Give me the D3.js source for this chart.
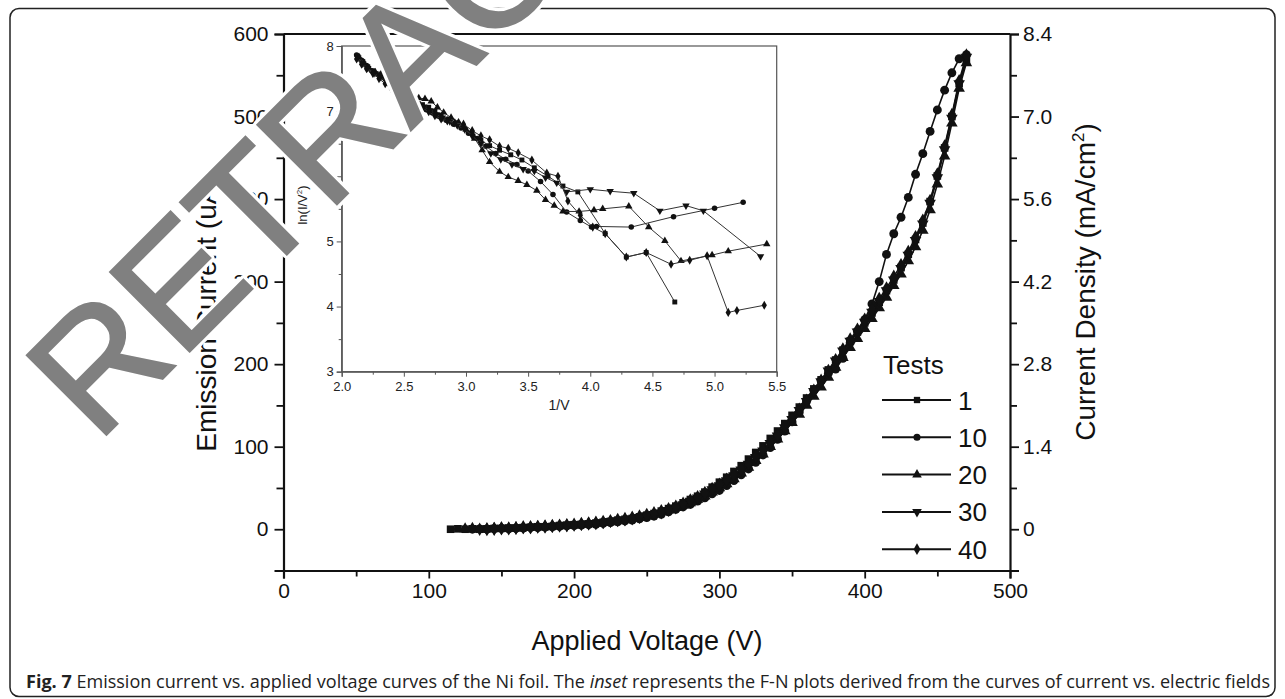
<!DOCTYPE html>
<meta charset="utf-8">
<style>
html,
body {
    margin: 0;
    padding: 0;
    overflow: hidden;
    background: #fff;
}

svg {
    display: block;
}

text {
    font-family: "Liberation Sans", Arial, sans-serif;
}
</style>
<svg width="1285" height="699"></svg>
<script src="https://cdn.jsdelivr.net/npm/d3@7"></script>
<script>
// main plot: emission current (uA) vs applied voltage (V), 5 V steps
var voltages = [115, 120, 125, 130, 135, 140, 145, 150, 155, 160, 165, 170, 175, 180, 185, 190, 195, 200,
    205, 210, 215, 220, 225, 230, 235, 240, 245, 250, 255, 260, 265, 270, 275, 280, 285, 290, 295, 300,
    305, 310, 315, 320, 325, 330, 335, 340, 345, 350, 355, 360, 365, 370, 375, 380, 385, 390, 395, 400,
    405, 410, 415, 420, 425, 430, 435, 440, 445, 450, 455, 460, 465, 470];

var test1 = [0, 0.5, 0, 0.5, 0, 0.5, 1, 1, 1.5, 1.5, 2, 2.5, 3, 3, 3.5, 4.5, 5, 5.5,
    6, 6.5, 7.5, 8.5, 9.5, 11, 12, 13, 15, 17, 19, 22, 25, 28, 32, 36, 40, 45, 51, 57,
    63, 70, 77, 85, 93, 101, 110, 119, 128, 138, 148, 159, 170, 181, 193, 205, 217, 228, 239, 250,
    262, 275, 289, 302, 317, 333, 351, 371, 397, 428, 462, 500, 540, 568];

var test10 = [null, null, null, 0, 0.5, 0, 0.5, 1, 0.5, 1, 1.5, 2, 2, 2.5, 3, 3.5, 4, 4.5,
    5, 5.5, 6, 7, 8, 9, 10, 11, 12.5, 14, 16, 18, 21, 24, 27, 30, 34, 38, 43, 47,
    53, 59, 66, 73, 81, 90, 99, 109, 119, 130, 142, 155, 168, 180, 189, 194, 207, 226, 240, 254,
    273, 300, 333, 358, 378, 402, 430, 455, 482, 508, 532, 553, 570, 575];

var test20 = [null, null, 0.5, 1, 0, 0.5, 1, 1.5, 1, 2, 2, 2.5, 3, 3.5, 4, 4, 5, 5,
    6, 7, 7.5, 8, 9, 10, 11.5, 13, 14, 16, 18.5, 21, 23, 26, 29, 32, 36, 40, 45, 50,
    55, 61, 68, 75, 83, 91, 100, 109, 119, 129, 139, 150, 161, 172, 184, 196, 208, 220, 231, 243,
    255, 268, 281, 295, 309, 325, 342, 362, 387, 418, 452, 492, 534, 565];

var test30 = [null, null, null, null, 0, 0.5, 0.5, 1, 1.5, 1.5, 2, 2, 3, 3, 3.5, 4, 4.5, 5.5,
    6, 6.5, 7, 8, 9.5, 10.5, 11.5, 12.5, 14.5, 16.5, 18, 20, 23, 26, 30, 34, 38, 43, 48, 53,
    59, 65, 72, 79, 87, 95, 104, 113, 123, 133, 144, 155, 167, 179, 192, 204, 216, 228, 239, 251,
    263, 276, 289, 302, 316, 332, 350, 370, 395, 426, 460, 498, 540, 572];

var test40 = [null, null, null, null, null, 0, 0.5, 1, 1, 1.5, 2.5, 2.5, 3, 3.5, 4, 4.5, 5, 5.5,
    6.5, 7, 8, 9, 10, 11.5, 12.5, 14, 15.5, 17.5, 19.5, 22, 24.5, 27.5, 31, 35, 39, 44, 49, 54,
    60, 66, 73, 80, 88, 96, 105, 114, 124, 134, 145, 156, 168, 180, 192, 205, 218, 230, 242, 254,
    266, 279, 292, 306, 320, 336, 354, 374, 398, 430, 464, 502, 543, 574];

var testNames = ["1", "10", "20", "30", "40"];

// inset: F-N plot, [1/V, ln(I/V^2)]
var fn1 = [[2.13, 7.84], [2.17, 7.76], [2.21, 7.68], [2.25, 7.62], [2.30, 7.57], [2.35, 7.50], [2.40, 7.40],
    [2.45, 7.33], [2.50, 7.27], [2.55, 7.22], [2.60, 7.16], [2.65, 7.10], [2.70, 7.06], [2.75, 7.00],
    [2.80, 6.94], [2.86, 6.88], [2.92, 6.82], [2.98, 6.76], [3.05, 6.66], [3.12, 6.55], [3.19, 6.47],
    [3.27, 6.40], [3.36, 6.33], [3.45, 6.25], [3.55, 6.13], [3.66, 6.00], [3.78, 5.85], [3.90, 5.76],
    [4.12, 5.12], [4.29, 4.76], [4.45, 4.83], [4.68, 4.07]];

var fn10 = [[2.12, 7.86], [2.16, 7.78], [2.20, 7.70], [2.24, 7.62], [2.28, 7.57], [2.33, 7.52], [2.38, 7.44],
    [2.43, 7.36], [2.48, 7.28], [2.53, 7.20], [2.58, 7.14], [2.63, 7.08], [2.68, 7.02], [2.73, 6.97],
    [2.78, 6.92], [2.84, 6.86], [2.90, 6.80], [2.96, 6.74], [3.02, 6.66], [3.09, 6.58], [3.16, 6.46],
    [3.24, 6.35], [3.32, 6.26], [3.41, 6.18], [3.50, 6.08], [3.60, 5.92], [3.70, 5.72], [3.81, 5.45],
    [3.92, 5.32], [4.01, 5.22], [4.05, 5.23], [4.33, 5.22], [4.67, 5.38], [5.00, 5.51], [5.23, 5.60]];

var fn20 = [[2.14, 7.83], [2.18, 7.74], [2.22, 7.66], [2.27, 7.60], [2.32, 7.58], [2.37, 7.55], [2.42, 7.44],
    [2.47, 7.35], [2.52, 7.30], [2.57, 7.25], [2.62, 7.20], [2.67, 7.19], [2.72, 7.15], [2.77, 7.06],
    [2.82, 6.98], [2.88, 6.90], [2.94, 6.83], [3.00, 6.72], [3.07, 6.58], [3.13, 6.40], [3.19, 6.22],
    [3.27, 6.07], [3.34, 5.99], [3.42, 5.93], [3.49, 5.87], [3.57, 5.78], [3.64, 5.64], [3.71, 5.55],
    [3.78, 5.46], [3.91, 5.46], [4.03, 5.48], [4.10, 5.50], [4.31, 5.54], [4.47, 5.22], [4.60, 5.01],
    [4.73, 4.70], [4.98, 4.79], [5.11, 4.85], [5.42, 4.96]];

var fn30 = [[2.13, 7.82], [2.17, 7.73], [2.21, 7.66], [2.26, 7.58], [2.31, 7.52], [2.36, 7.45], [2.41, 7.38],
    [2.46, 7.30], [2.51, 7.24], [2.56, 7.18], [2.61, 7.12], [2.66, 7.07], [2.71, 7.01], [2.76, 6.95],
    [2.81, 6.90], [2.87, 6.84], [2.93, 6.78], [2.99, 6.72], [3.05, 6.62], [3.12, 6.50], [3.20, 6.35],
    [3.28, 6.26], [3.37, 6.18], [3.46, 6.11], [3.55, 6.08], [3.64, 5.98], [3.73, 5.90], [3.81, 5.76],
    [4.00, 5.80], [4.16, 5.77], [4.35, 5.74], [4.56, 5.47], [4.77, 5.55], [4.91, 5.47], [5.37, 4.77]];

var fn40 = [[2.12, 7.80], [2.16, 7.72], [2.20, 7.65], [2.25, 7.58], [2.30, 7.50], [2.35, 7.42], [2.40, 7.34],
    [2.45, 7.28], [2.50, 7.22], [2.55, 7.17], [2.60, 7.11], [2.65, 7.05], [2.70, 6.99], [2.75, 6.93],
    [2.80, 6.88], [2.85, 6.85], [2.91, 6.82], [2.98, 6.80], [3.05, 6.70], [3.12, 6.62], [3.19, 6.56],
    [3.27, 6.46], [3.34, 6.43], [3.42, 6.36], [3.53, 6.25], [3.65, 6.05], [3.74, 6.00], [3.82, 5.62],
    [3.92, 5.40], [4.02, 5.22], [4.12, 5.12], [4.29, 4.76], [4.45, 4.83], [4.65, 4.65], [4.80, 4.71],
    [4.94, 4.78], [5.11, 3.91], [5.18, 3.94], [5.40, 4.02]];

var svg = d3.select("svg");

var mainSeries = [test1, test10, test20, test30, test40];
var insetSeries = [fn1, fn10, fn20, fn30, fn40];

var symbols = [d3.symbolSquare, d3.symbolCircle, d3.symbolTriangle, d3.symbolTriangle, d3.symbolDiamond];
var symbolRot = [0, 0, 0, 180, 0];

var x = d3.scaleLinear().domain([0, 500]).range([283.5, 1010]);
var y = d3.scaleLinear().domain([-50, 600]).range([570.5, 34]);
var yRight = d3.scaleLinear().domain([-0.7, 8.4]).range([570.5, 34]);

// frame around the figure
svg.append("rect")
    .attr("x", 10)
    .attr("y", 8.5)
    .attr("width", 1265)
    .attr("height", 688)
    .attr("rx", 9)
    .attr("fill", "none")
    .attr("stroke", "#222")
    .attr("stroke-width", 1.5);

// axes of the main plot
var gx = svg.append("g")
    .attr("transform", "translate(0," + y(-50) + ")")
    .call(d3.axisBottom(x).tickValues(d3.range(0, 501, 50)).tickSize(8)
        .tickFormat(function(d) { return d % 100 === 0 ? d : ""; }));

var gy = svg.append("g")
    .attr("transform", "translate(" + x(0) + ",0)")
    .call(d3.axisLeft(y).tickValues(d3.range(-50, 601, 50)).tickSize(9)
        .tickFormat(function(d) { return (d >= 0 && d % 100 === 0) ? d : ""; }));

var gr = svg.append("g")
    .attr("transform", "translate(" + x(500) + ",0)")
    .call(d3.axisRight(yRight).tickValues(d3.range(-7, 85, 7).map(function(d) { return d / 10; })).tickSize(9)
        .tickFormat(function(d) {
            if (d < 0 || Math.round(d * 10) % 14 !== 0) return "";
            return d === 0 ? "0" : d3.format(".1f")(d);
        }));

svg.append("line")
    .attr("x1", x(0)).attr("x2", x(500))
    .attr("y1", y(600)).attr("y2", y(600))
    .attr("stroke", "#111").attr("stroke-width", 2.2);

[gx, gy, gr].forEach(function(g) {
    g.select(".domain").attr("stroke", "#111").attr("stroke-width", 2.2);
    g.selectAll(".tick line").attr("stroke", "#111").attr("stroke-width", 1.8);
    g.selectAll(".tick text")
        .attr("fill", "#111")
        .style("font-size", "21px")
        .style("font-family", "'Liberation Sans', Arial, sans-serif");
});
gx.selectAll(".tick text").attr("y", 12).attr("dy", "0.75em");
gy.selectAll(".tick text").attr("x", -15);
gr.selectAll(".tick text").attr("x", 13);
gx.selectAll(".tick").filter(function(d) { return d % 100 !== 0; }).select("line").attr("y2", 6);
gy.selectAll(".tick").filter(function(d) { return d % 100 !== 0; }).select("line").attr("x2", -7);
gr.selectAll(".tick").filter(function(d) { return Math.round(d * 10) % 14 !== 0; }).select("line").attr("x2", 7);

// axis titles
svg.append("text")
    .attr("x", 647)
    .attr("y", 650)
    .attr("text-anchor", "middle")
    .style("font-size", "27px")
    .attr("fill", "#111")
    .text("Applied Voltage (V)");

svg.append("text")
    .attr("transform", "translate(216,314) rotate(-90)")
    .attr("text-anchor", "middle")
    .style("font-size", "28px")
    .attr("fill", "#111")
    .text("Emission Current (uA)");

var rt = svg.append("text")
    .attr("transform", "translate(1095,282) rotate(-90)")
    .attr("text-anchor", "middle")
    .style("font-size", "28px")
    .attr("fill", "#111");
rt.append("tspan").text("Current Density (mA/cm");
rt.append("tspan").attr("dy", -11).style("font-size", "17px").text("2");
rt.append("tspan").attr("dy", 11).text(")");

// main curves
var mainLine = d3.line()
    .defined(function(d) { return d[1] != null; })
    .x(function(d) { return x(d[0]); })
    .y(function(d) { return y(d[1]); });

mainSeries.forEach(function(vals, i) {
    var pts = voltages.map(function(v, j) { return [v, vals[j]]; });
    var g = svg.append("g").attr("class", "series");
    g.append("path")
        .datum(pts)
        .attr("d", mainLine)
        .attr("fill", "none")
        .attr("stroke", "#111")
        .attr("stroke-width", 1.6);
    g.selectAll("path.mk")
        .data(pts.filter(function(d) { return d[1] != null; }))
        .enter().append("path")
        .attr("class", "mk")
        .attr("d", d3.symbol().type(symbols[i]).size(i == 1 ? 62 : 58))
        .attr("transform", function(d) {
            return "translate(" + x(d[0]) + "," + y(d[1]) + ") rotate(" + symbolRot[i] + ")";
        })
        .attr("fill", "#111");
});

// legend
var legend = svg.append("g");
legend.append("text")
    .attr("x", 883)
    .attr("y", 374)
    .style("font-size", "26px")
    .attr("fill", "#111")
    .text("Tests");

var lg = legend.selectAll("g.item")
    .data(testNames)
    .enter().append("g")
    .attr("class", "item")
    .attr("transform", function(d, i) { return "translate(0," + (400 + i * 37.3) + ")"; });
lg.append("line")
    .attr("x1", 882).attr("x2", 951)
    .attr("stroke", "#111").attr("stroke-width", 2);
lg.append("path")
    .attr("d", function(d, i) { return d3.symbol().type(symbols[i]).size(40)(); })
    .attr("transform", function(d, i) { return "translate(917,0) rotate(" + symbolRot[i] + ")"; })
    .attr("fill", "#111");
lg.append("text")
    .attr("x", 958)
    .attr("y", 9.5)
    .style("font-size", "26px")
    .attr("fill", "#111")
    .text(function(d) { return d; });

// inset
var ix = d3.scaleLinear().domain([2.0, 5.5]).range([341.7, 776.7]);
var iy = d3.scaleLinear().domain([3, 8]).range([371.7, 46]);

var inset = svg.append("g");
inset.append("rect")
    .attr("x", ix(2)).attr("y", iy(8))
    .attr("width", ix(5.5) - ix(2)).attr("height", iy(3) - iy(8))
    .attr("fill", "#fff")
    .attr("stroke", "#555")
    .attr("stroke-width", 1.2);

var igx = inset.append("g")
    .attr("transform", "translate(0," + iy(3) + ")")
    .call(d3.axisBottom(ix).tickValues(d3.range(8, 23).map(function(d) { return d / 4; })).tickSize(5)
        .tickFormat(function(d) { return (d * 2) % 1 === 0 ? d3.format(".1f")(d) : ""; }));
var igy = inset.append("g")
    .attr("transform", "translate(" + ix(2) + ",0)")
    .call(d3.axisLeft(iy).tickValues(d3.range(6, 17).map(function(d) { return d / 2; })).tickSize(5)
        .tickFormat(function(d) { return d % 1 === 0 ? d : ""; }));
[igx, igy].forEach(function(g) {
    g.select(".domain").attr("stroke", "#555").attr("stroke-width", 1.2);
    g.selectAll(".tick line").attr("stroke", "#555");
    g.selectAll(".tick text")
        .attr("fill", "#222")
        .style("font-size", "13px")
        .style("font-family", "'Liberation Sans', Arial, sans-serif");
});
igx.selectAll(".tick").filter(function(d) { return (d * 2) % 1 !== 0; }).select("line").attr("y2", 3);
igy.selectAll(".tick").filter(function(d) { return d % 1 !== 0; }).select("line").attr("x2", -3);
igx.selectAll(".tick text").attr("dy", "0.85em");

inset.append("text")
    .attr("x", 559)
    .attr("y", 410)
    .attr("text-anchor", "middle")
    .style("font-size", "14px")
    .attr("fill", "#222")
    .text("1/V");

var il = inset.append("text")
    .attr("transform", "translate(307,205) rotate(-90)")
    .attr("text-anchor", "middle")
    .style("font-size", "13px")
    .attr("fill", "#222");
il.append("tspan").text("ln(I/V");
il.append("tspan").attr("dy", -5).style("font-size", "8px").text("2");
il.append("tspan").attr("dy", 5).text(")");

var insetLine = d3.line()
    .x(function(d) { return ix(d[0]); })
    .y(function(d) { return iy(d[1]); });

insetSeries.forEach(function(pts, i) {
    var g = inset.append("g");
    g.append("path")
        .datum(pts)
        .attr("d", insetLine)
        .attr("fill", "none")
        .attr("stroke", "#333")
        .attr("stroke-width", 1);
    g.selectAll("path.mk")
        .data(pts)
        .enter().append("path")
        .attr("class", "mk")
        .attr("d", d3.symbol().type(symbols[i]).size(24))
        .attr("transform", function(d) {
            return "translate(" + ix(d[0]) + "," + iy(d[1]) + ") rotate(" + symbolRot[i] + ")";
        })
        .attr("fill", "#111");
});

// caption
var cap = svg.append("text")
    .attr("x", 26)
    .attr("y", 688)
    .attr("textLength", 1244)
    .attr("lengthAdjust", "spacingAndGlyphs")
    .style("font-family", "'Liberation Sans Narrow', 'Open Sans', sans-serif")
    .style("font-size", "18px")
    .attr("fill", "#222");
cap.append("tspan").style("font-weight", "bold").text("Fig. 7");
cap.append("tspan").text(" Emission current vs. applied voltage curves of the Ni foil. The ");
cap.append("tspan").style("font-style", "italic").text("inset");
cap.append("tspan").text(" represents the F-N plots derived from the curves of current vs. electric fields");

// watermark
var wm = svg.append("g")
    .attr("transform", "translate(97,444) rotate(-45)");
wm.append("text")
    .style("font-size", "163px")
    .attr("fill", "#fff")
    .attr("stroke", "#fff")
    .attr("stroke-width", 9)
    .attr("stroke-linejoin", "round")
    .text("RETRACTED");
wm.append("text")
    .style("font-size", "163px")
    .attr("fill", "#808080")
    .attr("stroke", "#808080")
    .attr("stroke-width", 2.5)
    .text("RETRACTED");
</script>
